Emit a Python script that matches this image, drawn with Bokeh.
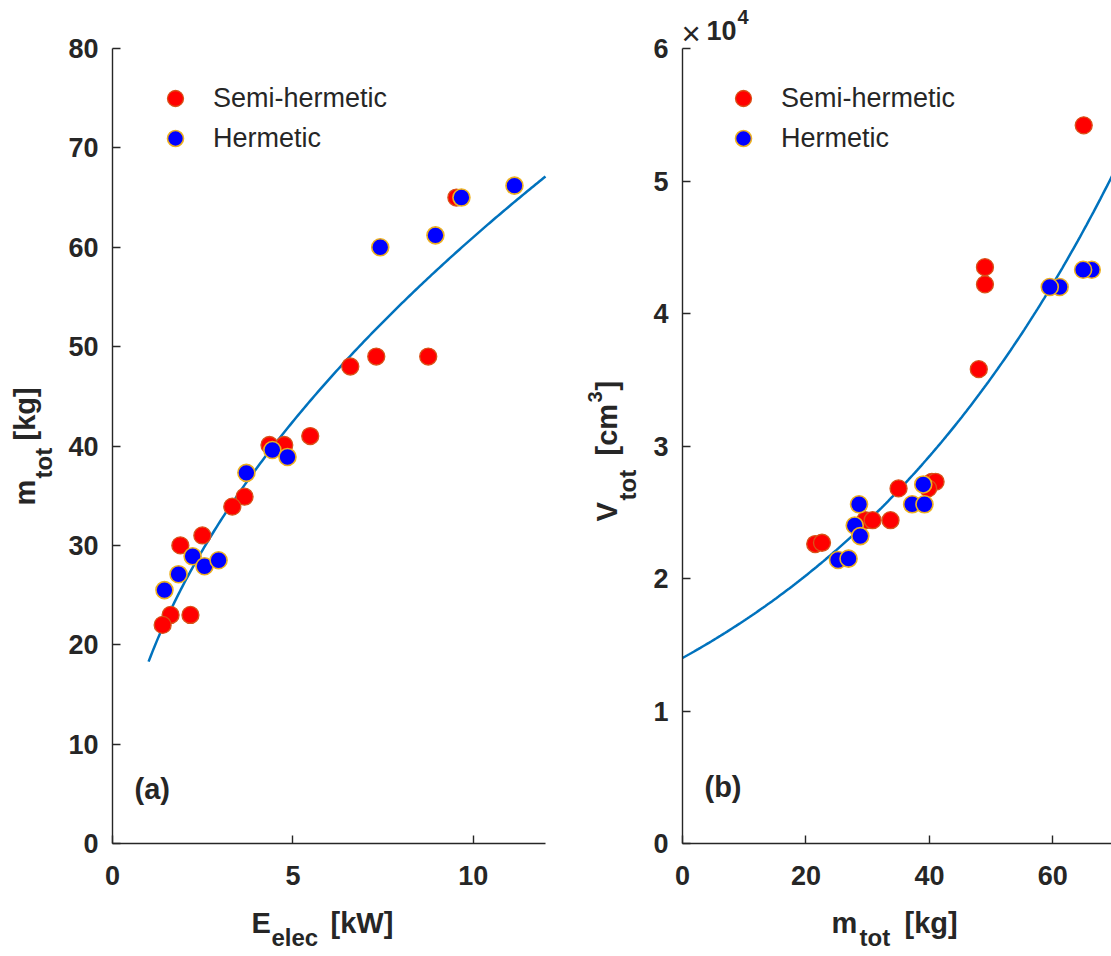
import math
import numpy as np
from bokeh.plotting import figure
from bokeh.layouts import row
from bokeh.models import Range1d, FixedTicker, Label, Legend, LegendItem
from bokeh.embed import file_html
from bokeh.resources import INLINE

# ---------------- data ----------------
# panel (a): electrical power [kW] vs total mass [kg]
semi_E = [9.53, 8.75, 7.31, 6.59, 5.48, 4.35, 4.76, 3.66, 3.32, 2.49, 1.88, 1.61, 2.16, 1.39]
semi_m_a = [65.0, 49.0, 49.0, 48.0, 41.0, 40.1, 40.1, 34.9, 33.9, 31.0, 30.0, 23.0, 23.0, 22.0]
herm_E = [11.14, 9.67, 8.95, 7.42, 4.43, 4.85, 3.71, 2.22, 2.55, 2.94, 1.83, 1.44]
herm_m_a = [66.2, 65.0, 61.2, 60.0, 39.6, 38.9, 37.3, 28.9, 27.9, 28.5, 27.1, 25.5]

# panel (b): total mass [kg] vs total volume [cm^3]
semi_m_b = [65.0, 49.0, 49.0, 48.0, 40.4, 41.0, 39.8, 35.0, 29.6, 30.8, 33.7, 21.5, 22.6]
semi_V = [54200, 43500, 42200, 35800, 27300, 27300, 26800, 26800, 24400, 24400, 24400, 22600, 22700]
herm_m_b = [66.3, 64.9, 61.1, 59.5, 39.0, 37.2, 39.2, 28.6, 27.9, 28.8, 25.2, 26.9]
herm_V = [43300, 43300, 42000, 42000, 27100, 25600, 25600, 25600, 24000, 23200, 21400, 21500]

# fitted curves (parameters)
fit_a_coef, fit_a_exp = 18.3, 0.523      # m = a * E^b
fit_a_range = (1.0, 12.0)
fit_b_coef, fit_b_rate = 14000.0, 0.0184  # V = a * exp(b m)
fit_b_range = (0.0, 72.0)

a_xlim, a_ylim = (0, 12), (0, 80)
b_xlim, b_ylim = (0, 69.5), (0, 60000)
a_xticks = [0, 5, 10]
a_yticks = [0, 10, 20, 30, 40, 50, 60, 70, 80]
b_xticks = [0, 20, 40, 60]
b_yticks = [0, 10000, 20000, 30000, 40000, 50000, 60000]
b_ylabels = {t: str(t // 10000) for t in b_yticks}

legend_names = ["Semi-hermetic", "Hermetic"]

# ---------------- styling / layout geometry (pixels) ----------------
FONT = "Liberation Sans"
DARK = "#262626"
RED_FILL, RED_EDGE = "#FF0000", "#D95319"
BLUE_FILL, BLUE_EDGE = "#0000FF", "#EDB120"
CURVE = "#0072BD"
H = 955
W_A, W_B = 560, 551
AX_TOP, AX_BOT = 48, 843          # axes box top / bottom (px)
A_LEFT, A_RIGHT = 112, 545        # panel (a) axes box, px within figure a
B_LEFT, B_RIGHT = 122, 551        # panel (b) axes box, px within figure b
DY = 10                           # baseline correction of rendered labels


class Geo:
    def __init__(self, left, right, xlim, ylim):
        self.left, self.right = left, right
        self.xlim, self.ylim = xlim, ylim
        self.sx = (right - left) / (xlim[1] - xlim[0])
        self.sy = (AX_BOT - AX_TOP) / (ylim[1] - ylim[0])

    def x(self, px):
        return self.xlim[0] + (px - self.left) / self.sx

    def y(self, py):
        return self.ylim[0] + (AX_BOT - py) / self.sy


def make_fig(width, geo):
    p = figure(width=width, height=H,
               x_range=Range1d(geo.x(0), geo.x(width)),
               y_range=Range1d(geo.y(H), geo.y(0)),
               output_backend="svg", toolbar_location=None,
               min_border=0, min_border_left=0, min_border_right=0,
               min_border_top=0, min_border_bottom=0)
    p.grid.visible = False
    p.outline_line_color = None
    p.background_fill_color = "white"
    p.border_fill_color = "white"
    return p


def style(p, geo, xticks, yticks):
    for ax in (p.xaxis[0], p.yaxis[0]):
        ax.axis_line_color = DARK
        ax.axis_line_width = 1.4
        ax.major_tick_line_color = DARK
        ax.major_tick_line_width = 1.4
        ax.major_tick_in = 8
        ax.major_tick_out = 0
        ax.minor_tick_line_color = None
        ax.major_label_text_font = FONT
        ax.major_label_text_font_style = "bold"
        ax.major_label_text_font_size = "27px"
        ax.major_label_text_color = DARK
        ax.axis_label = None
    p.xaxis[0].fixed_location = geo.ylim[0]
    p.yaxis[0].fixed_location = geo.xlim[0]
    p.xaxis[0].bounds = geo.xlim
    p.yaxis[0].bounds = geo.ylim
    p.xaxis[0].ticker = FixedTicker(ticks=xticks)
    p.yaxis[0].ticker = FixedTicker(ticks=yticks)
    p.xaxis[0].major_label_standoff = 22
    p.yaxis[0].major_label_standoff = 14


def hlab(p, geo, px, py, text, size, bold=True, off=0):
    p.add_layout(Label(x=geo.x(px - off), y=geo.y(py - DY), text=text, text_font=FONT,
                       text_font_size=f"{size}px",
                       text_font_style="bold" if bold else "normal",
                       text_color=DARK, text_align="left",
                       text_baseline="alphabetic"))


def vlab(p, geo, px, py, text, size, off=0):
    p.add_layout(Label(x=geo.x(px - off - DY), y=geo.y(py), text=text, text_font=FONT,
                       text_font_size=f"{size}px", text_font_style="bold",
                       text_color=DARK, text_align="left",
                       text_baseline="alphabetic", angle=math.pi / 2))


def add_points(p, xs_s, ys_s, xs_h, ys_h):
    r1 = p.scatter(xs_s, ys_s, size=17, fill_color=RED_FILL, line_color=RED_EDGE, line_width=1.3)
    r2 = p.scatter(xs_h, ys_h, size=17, fill_color=BLUE_FILL, line_color=BLUE_EDGE, line_width=1.6)
    return r1, r2


def add_legend(p, r1, r2, vx):
    leg = Legend(items=[LegendItem(label=legend_names[0], renderers=[r1]),
                        LegendItem(label=legend_names[1], renderers=[r2])],
                 location=(vx, H - 158), orientation="vertical",
                 glyph_width=40, glyph_height=40, label_height=40,
                 label_standoff=18, spacing=0, padding=0, margin=0,
                 label_text_font=FONT, label_text_font_size="27px",
                 label_text_color=DARK, border_line_color=None,
                 background_fill_alpha=0)
    p.add_layout(leg, "center")


# ---------------- panel (a) ----------------
ga = Geo(A_LEFT, A_RIGHT, a_xlim, a_ylim)
pa = make_fig(W_A, ga)
style(pa, ga, a_xticks, a_yticks)

ea = np.linspace(fit_a_range[0], fit_a_range[1], 200)
pa.line(ea, fit_a_coef * ea ** fit_a_exp, line_color=CURVE, line_width=2.5)
ra1, ra2 = add_points(pa, semi_E, semi_m_a, herm_E, herm_m_a)
add_legend(pa, ra1, ra2, 155)

hlab(pa, ga, 251, 932, "E", 29)
hlab(pa, ga, 271, 947, "elec", 24)
hlab(pa, ga, 330, 932, "[kW]", 29)
vlab(pa, ga, 34, 505, "m", 29)
vlab(pa, ga, 53, 478, "tot", 24)
vlab(pa, ga, 34, 440, "[kg]", 29)
hlab(pa, ga, 134, 798, "(a)", 29)

# ---------------- panel (b) ----------------
gb = Geo(B_LEFT, B_RIGHT, b_xlim, b_ylim)
pb = make_fig(W_B, gb)
style(pb, gb, b_xticks, b_yticks)
pb.yaxis[0].major_label_overrides = b_ylabels

mb = np.linspace(fit_b_range[0], fit_b_range[1], 200)
pb.line(mb, fit_b_coef * np.exp(fit_b_rate * mb), line_color=CURVE, line_width=2.5)
rb1, rb2 = add_points(pb, semi_m_b, semi_V, herm_m_b, herm_V)
add_legend(pb, rb1, rb2, 743 - 20 - W_A)

O = W_A  # pixel offset of panel (b) in the window
hlab(pb, gb, 831, 932, "m", 29, off=O)
hlab(pb, gb, 859, 947, "tot", 24, off=O)
hlab(pb, gb, 904, 932, "[kg]", 29, off=O)
vlab(pb, gb, 616, 521, "V", 29, off=O)
vlab(pb, gb, 637, 500, "tot", 24, off=O)
vlab(pb, gb, 616, 455, "[cm", 29, off=O)
vlab(pb, gb, 604, 402, "3", 20, off=O)
vlab(pb, gb, 616, 390, "]", 29, off=O)
hlab(pb, gb, 681, 43, "\u00d7", 33, bold=False, off=O)
hlab(pb, gb, 706, 40, "10", 27, off=O)
hlab(pb, gb, 737, 26, "4", 20, off=O)
hlab(pb, gb, 704, 796, "(b)", 29, off=O)

layout = row(pa, pb, spacing=0)
open("out.html", "w").write(file_html(layout, INLINE))
